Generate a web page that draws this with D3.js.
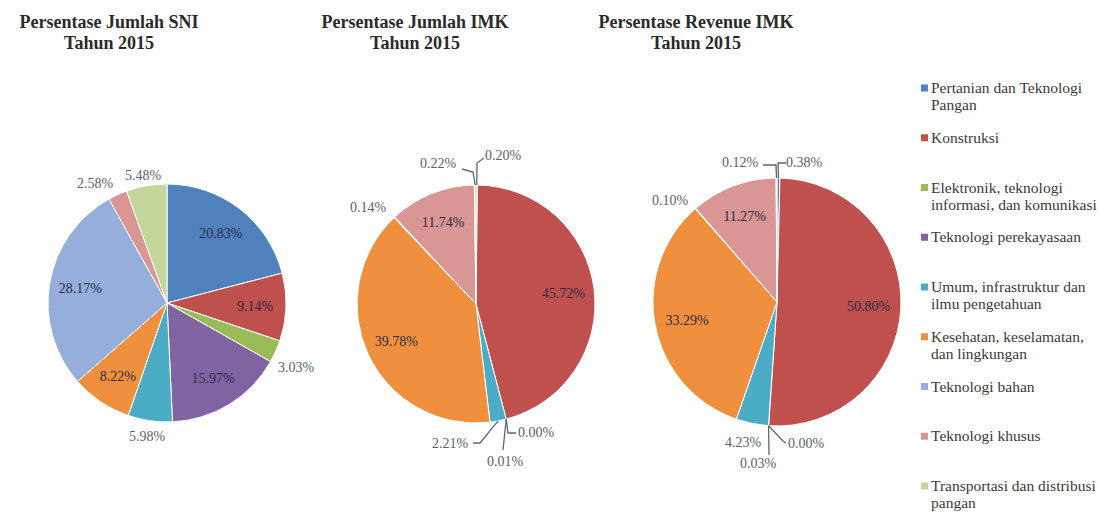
<!DOCTYPE html>
<html>
<head>
<meta charset="utf-8">
<script src="https://cdn.jsdelivr.net/npm/d3@7"></script>
<style>
  html, body { margin: 0; padding: 0; background: #ffffff; }
  svg { display: block; }
  svg text { font-family: "Liberation Serif", "Tinos", "Times New Roman", "DejaVu Serif", "Noto Serif", serif; }
</style>
</head>
<body>
<svg id="chart" width="1099" height="513"></svg>
<script>
// Standard categories (legend order = slice order, clockwise from 12 o'clock)
const categories = [
  "Pertanian dan Teknologi\nPangan",
  "Konstruksi",
  "Elektronik, teknologi\ninformasi, dan komunikasi",
  "Teknologi perekayasaan",
  "Umum, infrastruktur dan\nilmu pengetahuan",
  "Kesehatan, keselamatan,\ndan lingkungan",
  "Teknologi bahan",
  "Teknologi khusus",
  "Transportasi dan distribusi\npangan"
];

// Shares in percent
const sniShare        = [20.83, 9.14, 3.03, 15.97, 5.98, 8.22, 28.17, 2.58, 5.48];
const imkCountShare   = [0.20, 45.72, 0.00, 0.01, 2.21, 39.78, 0.14, 11.74, 0.22];
const imkRevenueShare = [0.38, 50.80, 0.00, 0.03, 4.23, 33.29, 0.10, 11.27, 0.12];

const chartTitles = [
  ["Persentase Jumlah SNI", "Tahun 2015"],
  ["Persentase Jumlah IMK", "Tahun 2015"],
  ["Persentase Revenue IMK", "Tahun 2015"]
];

// ---- styling / layout ----
const palette = ["#4F81BD", "#C0504D", "#9BBB59", "#8064A2", "#4BACC6",
                 "#F0903F", "#95AEDB", "#D99694", "#C3D69B"];
const color = d3.scaleOrdinal().domain(d3.range(categories.length)).range(palette);
const fmt = v => d3.format(".2f")(v) + "%";

// Outside-label placement (offsets from pie centre) and leader elbows
const pieLayouts = [
  {
    values: sniShare, cx: 167, cy: 303, r: 119, titleX: 109,
    outside: {
      2: { x: 129, y: 64 },
      4: { x: -20, y: 133 },
      7: { x: -72, y: -120 },
      8: { x: -24, y: -128 }
    }
  },
  {
    values: imkCountShare, cx: 476, cy: 304, r: 119, titleX: 415,
    outside: {
      0: { x: 27, y: -149, leader: [[1, -141], [8, -146]] },
      8: { x: -38, y: -141, leader: [[-3, -132], [-14, -135]] },
      6: { x: -108, y: -97 },
      2: { x: 42, y: 128, anchor: "start", leader: [[32, 129], [40, 129]] },
      3: { x: 29, y: 157, leader: [[27, 146]] },
      4: { x: -26, y: 139, leader: [[4, 139], [-3, 139]] }
    }
  },
  {
    values: imkRevenueShare, cx: 777, cy: 302, r: 124, titleX: 696,
    outside: {
      0: { x: 27, y: -140, leader: [[1, -139], [9, -139]] },
      8: { x: -37, y: -140, leader: [[-1, -137], [-14, -137]] },
      6: { x: -107, y: -102 },
      2: { x: 11, y: 141, anchor: "start", leader: [[6, 139], [9, 141]] },
      3: { x: -19, y: 161, leader: [[-8, 153]] },
      4: { x: -34, y: 140 }
    }
  }
];

const svg = d3.select("#chart");

const pie = d3.pie().sort(null).value(d => d).startAngle(0).endAngle(2 * Math.PI);

pieLayouts.forEach((layout, k) => {
  const g = svg.append("g").attr("transform", `translate(${layout.cx},${layout.cy})`);
  const arcs = pie(layout.values);
  const arc = d3.arc().innerRadius(0).outerRadius(layout.r);
  const labelArc = d3.arc().innerRadius(layout.r * 0.74).outerRadius(layout.r * 0.74);
  const edgeArc = d3.arc().innerRadius(layout.r).outerRadius(layout.r);

  // slices
  g.selectAll("path.slice")
    .data(arcs)
    .join("path")
    .attr("class", "slice")
    .attr("d", arc)
    .attr("fill", d => color(d.index))
    .attr("stroke", "#ffffff")
    .attr("stroke-width", d => (d.endAngle - d.startAngle) > 0.002 ? 1 : 0)
    .attr("stroke-linejoin", "round");

  // leader lines
  arcs.forEach(d => {
    const o = layout.outside[d.index];
    if (!o || !o.leader) return;
    const pts = [edgeArc.centroid(d)].concat(o.leader);
    g.append("path")
      .attr("d", d3.line()(pts))
      .attr("fill", "none")
      .attr("stroke", "#5f6670")
      .attr("stroke-width", 1.3);
  });

  // value labels
  arcs.forEach(d => {
    const o = layout.outside[d.index];
    const pos = o ? [o.x, o.y] : labelArc.centroid(d);
    g.append("text")
      .attr("x", pos[0])
      .attr("y", pos[1])
      .attr("dy", "0.35em")
      .attr("text-anchor", o && o.anchor ? o.anchor : "middle")
      .attr("font-size", 14)
      .attr("fill", o ? "#5a5f6a" : "#2b2d45")
      .text(fmt(d.data));
  });

  // title
  const t = svg.append("text")
    .attr("text-anchor", "middle")
    .attr("font-weight", "bold")
    .attr("font-size", 18)
    .attr("fill", "#2a2a2a");
  chartTitles[k].forEach((line, i) => {
    t.append("tspan").attr("x", layout.titleX).attr("y", 28 + i * 21).text(line);
  });
});

// legend
const legendY = d3.scalePoint().domain(d3.range(categories.length)).range([88, 486]);
const legend = svg.append("g");
categories.forEach((name, i) => {
  const y = legendY(i);
  legend.append("rect")
    .attr("x", 921).attr("y", y - 3.5)
    .attr("width", 7).attr("height", 7)
    .attr("fill", color(i));
  const txt = legend.append("text")
    .attr("font-size", 15.5)
    .attr("fill", "#3a3a3a");
  name.split("\n").forEach((line, j) => {
    txt.append("tspan").attr("x", 931).attr("y", y + 5 + j * 17).text(line);
  });
});
</script>
</body>
</html>
